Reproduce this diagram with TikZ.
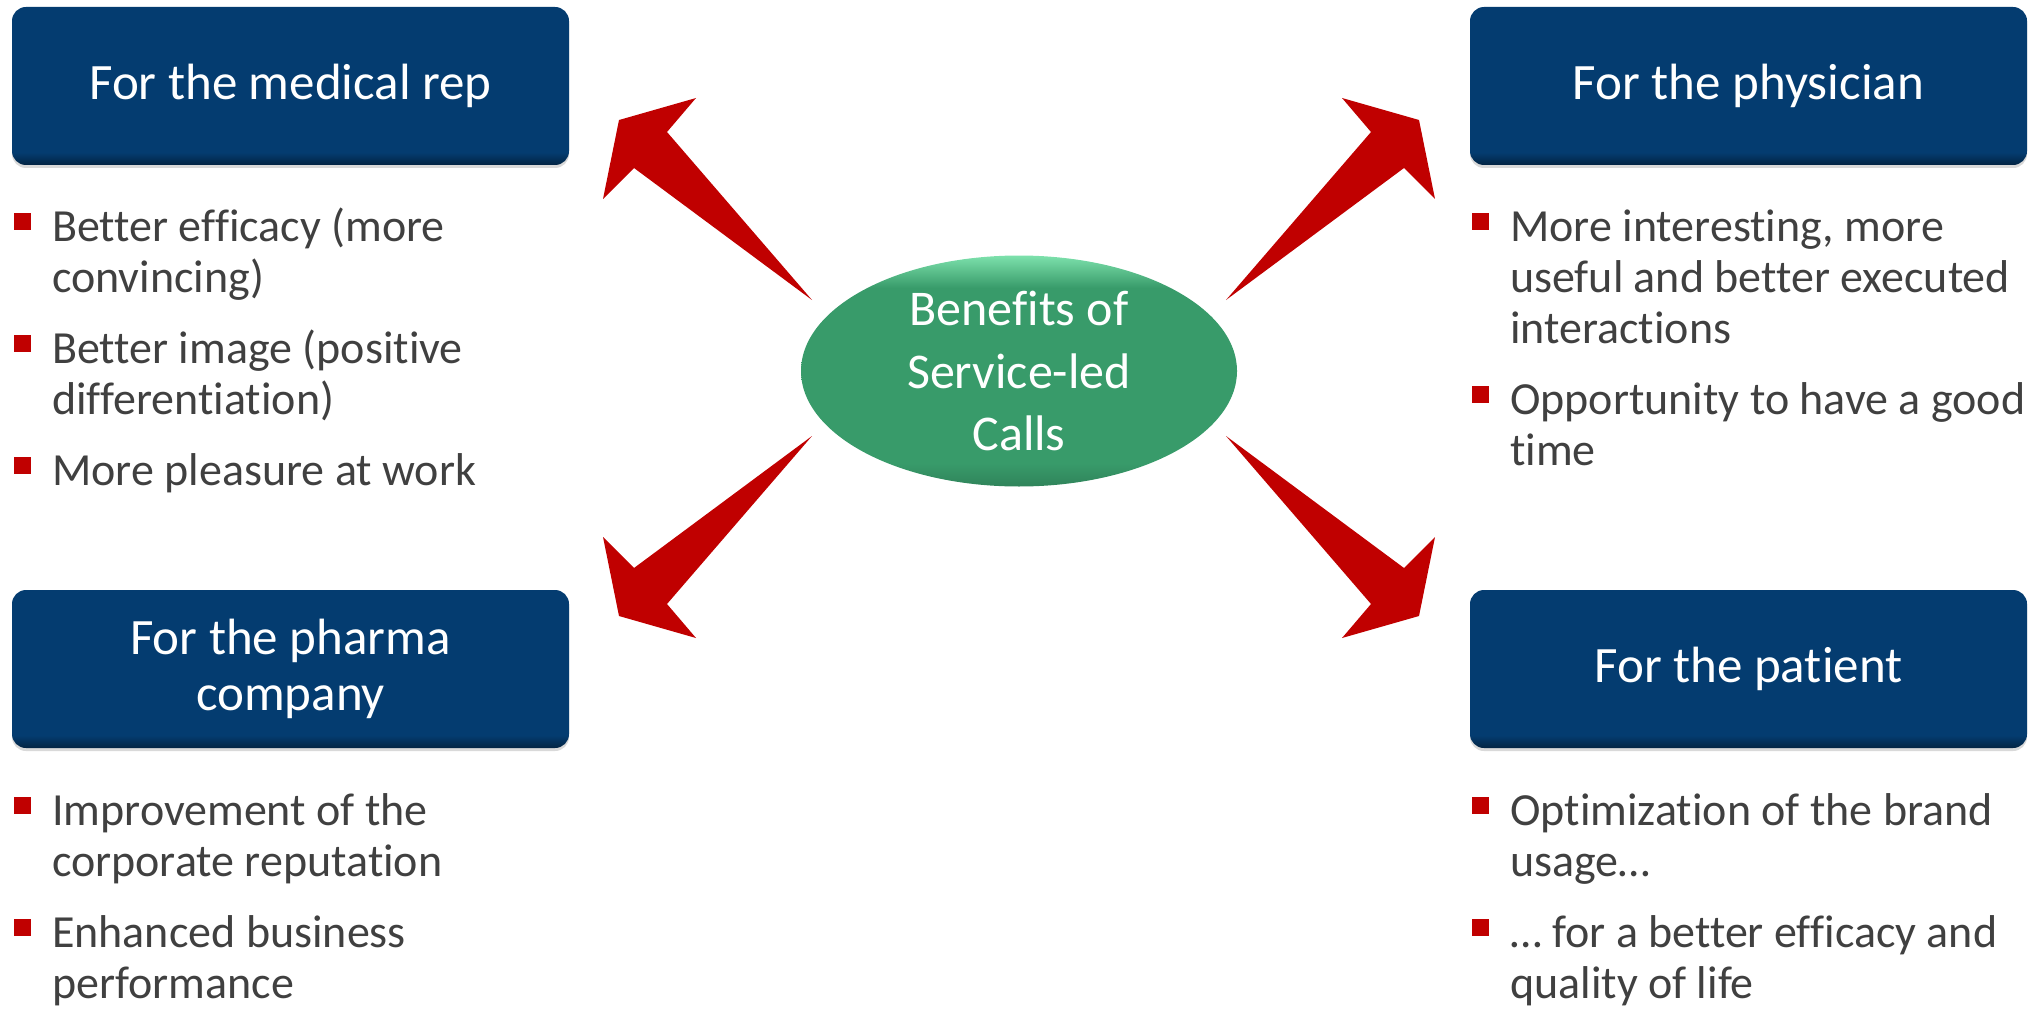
\documentclass[tikz,border=0pt]{standalone}
\usepackage{fontspec}
\setmainfont{Carlito}[Ligatures=NoCommon]
\usepackage{tikz}
\usetikzlibrary{shapes.geometric, positioning, calc, shadows}

\definecolor{boxblue}{RGB}{4,60,112}
\definecolor{hubgreen}{RGB}{56,155,106}
\definecolor{hubrim}{RGB}{125,225,172}
\definecolor{dartred}{RGB}{192,0,0}
\definecolor{textgray}{RGB}{64,64,64}

\pgfdeclareverticalshading{boxshade}{100bp}{color(0bp)=(boxblue!60!black); color(25bp)=(boxblue!60!black); color(29bp)=(boxblue); color(75bp)=(boxblue); color(100bp)=(boxblue)}
\pgfdeclareverticalshading{hubshade}{100bp}{color(0bp)=(hubgreen!80!black); color(25bp)=(hubgreen!85!black); color(30bp)=(hubgreen); color(68bp)=(hubgreen); color(75bp)=(hubrim); color(100bp)=(hubrim)}

\begin{document}
\begin{tikzpicture}[
    x=1pt, y=-1pt,
    titlebox/.style={rectangle, rounded corners=14pt, minimum width=557pt, minimum height=158pt, shade, shading=boxshade, drop shadow={shadow xshift=0pt, shadow yshift=-3pt, opacity=0.3}, text=white, align=center, font=\fontsize{51}{56}\selectfont},
    centerblob/.style={ellipse, minimum width=436pt, minimum height=231pt, inner sep=0pt, shade, shading=hubshade, text=white, align=center, font=\fontsize{50}{62.5}\selectfont},
    bulletline/.style={anchor=base west, inner sep=0pt, align=left, text=textgray, font=\fontsize{46}{51}\selectfont},
    dart/.pic={\fill[dartred] (-207,-68) -- (-352,-236) -- (-323,-270) -- (-400,-248) -- (-416,-169) -- (-385,-200) -- cycle;}
]
\useasboundingbox (0,0) rectangle (2044,1011);

% centre
\node[centerblob] (hub) at (1019,371) {Benefits of\\Service-led\\Calls};

% the four groups
\node[titlebox] (rep) at (290.5,86) {For the medical rep};
\node[titlebox] (doc) at (1748.5,86) {For the physician};
\node[titlebox] (co) at (290.5,669) {For the pharma\\company};
\node[titlebox] (pat) at (1748.5,669) {For the patient};

% arrows out of the centre
\pic at ([yshift=3pt]hub.center) {dart};
\pic[xscale=-1] at ([yshift=3pt]hub.center) {dart};
\pic[yscale=-1] at ([yshift=3pt]hub.center) {dart};
\pic[xscale=-1, yscale=-1] at ([yshift=3pt]hub.center) {dart};

% bullet lists (placed at the baseline of their last line)
\node[bulletline] (rep1) at (52,292) {Better efficacy (more\\convincing)};
\node[bulletline] (rep2) at (52,414) {Better image (positive\\differentiation)};
\node[bulletline] (rep3) at (52,485) {More pleasure at work};
\node[bulletline] (co1) at (52,876) {Improvement of the\\corporate reputation};
\node[bulletline] (co2) at (52,998) {Enhanced business\\performance};
\node[bulletline] (doc1) at (1510,343) {More interesting, more\\useful and better executed\\interactions};
\node[bulletline] (doc2) at (1510,465) {Opportunity to have a good\\time};
\node[bulletline] (pat1) at (1510,876) {Optimization of the brand\\usage…};
\node[bulletline] (pat2) at (1510,998) {… for a better efficacy and\\quality of life};

% red squares on the first line of each item
\foreach \bl/\n in {rep1/1,rep2/1,rep3/0,co1/1,co2/1,doc1/2,doc2/1,pat1/1,pat2/1}
  \fill[dartred] ($(\bl.base west)+(-38,-28-51*\n)$) rectangle ++(17,17);

\end{tikzpicture}
\end{document}
